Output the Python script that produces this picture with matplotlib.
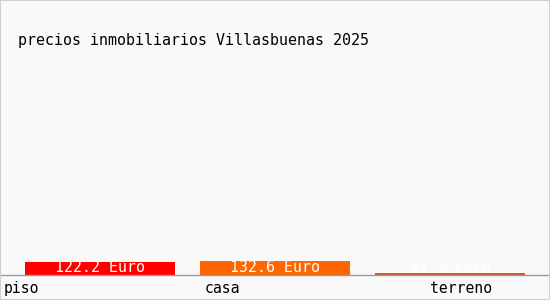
import matplotlib
matplotlib.use('Agg')
import matplotlib.pyplot as plt
from matplotlib.patches import Rectangle

# data
categories = ['piso', 'casa', 'terreno']
values = [122.2, 132.6, 21.5]
value_labels = ['122.2 Euro', '132.6 Euro', '21.5 Euro']
title = 'precios inmobiliarios Villasbuenas 2025'

colors = ['#ff0000', '#ff6600', '#d9532f']
label_left_px = [4, 205, 430]  # left edge of each category label (pixels)

W, H = 550, 300
fig = plt.figure(figsize=(W / 100, H / 100), dpi=100)
fig.patch.set_facecolor('#f9f9f9')
fig.patches.append(Rectangle((0, 0), 1, 1, transform=fig.transFigure,
                             fill=False, edgecolor='#d0d0d0', lw=1.5))

# axes spans full width, baseline at y=275px
ax = fig.add_axes([0, 25 / H, 1, 205 / H])
ax.set_facecolor('none')
x = range(len(categories))
ax.bar(x, values, width=150 / 175, color=colors)
ax.set_xlim(-100 / 175, 2 + 100 / 175)
ax.set_ylim(0, 1930)
for s in ['top', 'left', 'right']:
    ax.spines[s].set_visible(False)
ax.spines['bottom'].set_color('#999999')
ax.spines['bottom'].set_linewidth(1)
ax.set_xticks([])
ax.set_yticks([])

for i, (v, lab) in enumerate(zip(values, value_labels)):
    ax.text(i, 67, lab, ha='center', va='center', color='white',
            family='DejaVu Sans Mono', fontsize=10.7)

for lab, px in zip(categories, label_left_px):
    fig.text(px / W, 1 - 293 / H, lab, ha='left', va='baseline',
             family='DejaVu Sans Mono', fontsize=10.6, color='black')

fig.text(18 / W, 1 - 40 / H, title, ha='left', va='center',
         family='DejaVu Sans Mono', fontsize=10.8, color='black')

fig.savefig('out.png', dpi=100, facecolor=fig.get_facecolor())
